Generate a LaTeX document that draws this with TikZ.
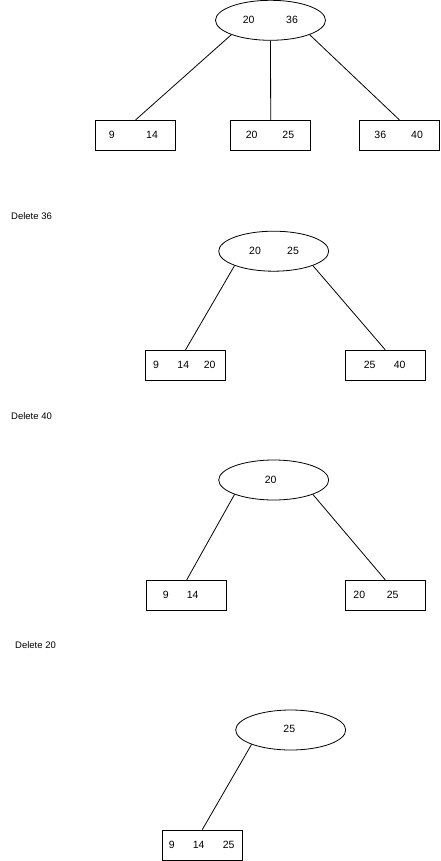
\documentclass[tikz,border=0pt]{standalone}
\usepackage{fontspec}
\setmainfont{Liberation Sans}
\usetikzlibrary{shapes.geometric}

\begin{document}
\begin{tikzpicture}[
    x=1pt,y=-1pt,
    root/.style={draw,ellipse,line width=0.8pt,minimum width=110pt,minimum height=40pt,inner sep=0pt},
    leaf/.style={draw,rectangle,line width=0.8pt,minimum width=80pt,minimum height=30pt,inner sep=0pt},
    key/.style={font=\fontsize{10.5}{12}\selectfont,inner sep=0pt},
    step label/.style={font=\fontsize{9.5}{11}\selectfont,anchor=west,inner sep=0pt},
    edge/.style={line width=0.8pt}
  ]
    \useasboundingbox (0,0) rectangle (440,861);

    % initial tree
    \node[root] (r1) at (270.5,20.3) {};
    \node[leaf] (l1a) at (135.7,135.2) {};
    \node[leaf] (l1b) at (270.7,135.2) {};
    \node[leaf] (l1c) at (399.3,135.2) {};
    \foreach \k/\x in {20/248.7,36/292} \node[key] (k1r\k) at (\x,20) {\k};
    \foreach \k/\x in {9/111.7,14/152} \node[key] (k1a\k) at (\x,135.3) {\k};
    \foreach \k/\x in {20/251.7,25/288.3} \node[key] (k1b\k) at (\x,135.3) {\k};
    \foreach \k/\x in {36/380.3,40/417} \node[key] (k1c\k) at (\x,135.3) {\k};
    \draw[edge] (r1.south west) -- (l1a.north);
    \draw[edge] (r1.south) -- (l1b.north);
    \draw[edge] (r1.south east) -- (l1c.north);

    % delete 36
    \node[step label] (s1) at (11,216) {Delete 36};
    \node[root] (r2) at (273.7,251.2) {};
    \node[leaf] (l2a) at (185.5,365.3) {};
    \node[leaf] (l2b) at (385.3,365.3) {};
    \foreach \k/\x in {20/255,25/293} \node[key] (k2r\k) at (\x,250.7) {\k};
    \foreach \k/\x in {9/156,14/183.3,20/209.7} \node[key] (k2a\k) at (\x,365) {\k};
    \foreach \k/\x in {25/369.7,40/399.7} \node[key] (k2b\k) at (\x,365) {\k};
    \draw[edge] (r2.south west) -- (l2a.north);
    \draw[edge] (r2.south east) -- (l2b.north);

    % delete 40
    \node[step label] (s2) at (11,416) {Delete 40};
    \node[root] (r3) at (273.7,480) {};
    \node[leaf] (l3a) at (186.7,595.3) {};
    \node[leaf] (l3b) at (385.3,595.3) {};
    \node[key] (k3r20) at (270.7,480) {20};
    \foreach \k/\x in {9/165.7,14/192.7} \node[key] (k3a\k) at (\x,595) {\k};
    \foreach \k/\x in {20/359.3,25/392.7} \node[key] (k3b\k) at (\x,595) {\k};
    \draw[edge] (r3.south west) -- (l3a.north);
    \draw[edge] (r3.south east) -- (l3b.north);

    % delete 20
    \node[step label] (s3) at (15,645) {Delete 20};
    \node[root] (r4) at (290.7,730) {};
    \node[leaf] (l4a) at (202.3,845) {};
    \node[key] (k4r25) at (289.3,729.3) {25};
    \foreach \k/\x in {9/171.7,14/198.7,25/228.7} \node[key] (k4a\k) at (\x,845) {\k};
    \draw[edge] (r4.south west) -- (l4a.north);
  \end{tikzpicture}
\end{document}
